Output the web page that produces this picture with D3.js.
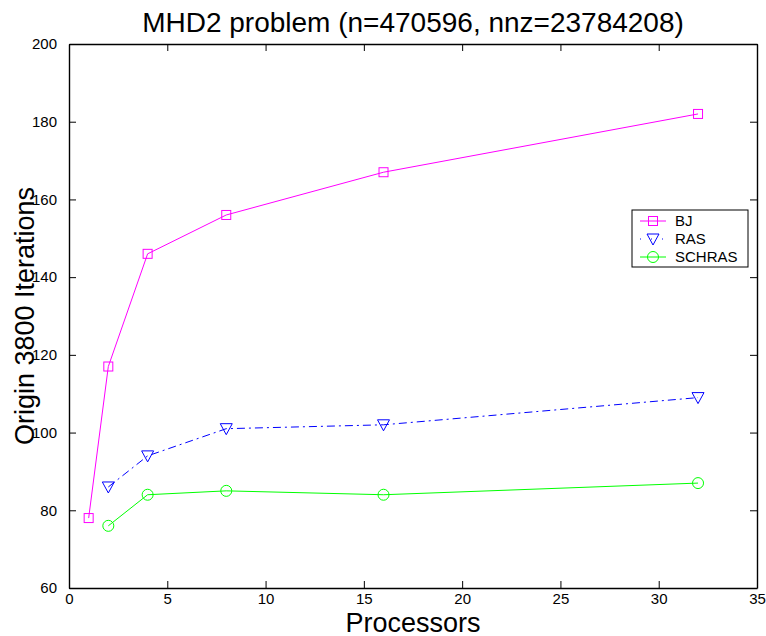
<!DOCTYPE html>
<html>
<head>
<meta charset="utf-8">
<script src="https://cdn.jsdelivr.net/npm/d3@7"></script>
<style>
  body { margin: 0; background: #fff; }
  text { font-family: "Liberation Sans", Arial, sans-serif; }
</style>
</head>
<body>
<div id="content"></div>
<script>
// data
var bjProcs = [1, 2, 4, 8, 16, 32]
var bjIters = [78, 117, 146, 156, 167, 182]
var rasProcs = [2, 4, 8, 16, 32]
var rasIters = [86, 94, 101, 102, 109]
var schrasProcs = [2, 4, 8, 16, 32]
var schrasIters = [76, 84, 85, 84, 87]
var xTicks = [0, 5, 10, 15, 20, 25, 30, 35]
var yTicks = [60, 80, 100, 120, 140, 160, 180, 200]

svgwidth = 766
svgheight = 636
margin = {top: 44, right: 9, bottom: 48, left: 69}
width = svgwidth - margin.left - margin.right
height = svgheight - margin.top - margin.bottom

var x = d3.scaleLinear().domain([0, 35]).range([0, width])
var y = d3.scaleLinear().domain([60, 200]).range([height, 0])

var svg = d3.select("#content").append("svg")
  .attr("width", svgwidth)
  .attr("height", svgheight)

var g = svg.append("g").attr("transform", "translate(" + margin.left + "," + margin.top + ")")

// axes with inward ticks, box style
g.append("g")
  .attr("transform", "translate(0," + height + ")")
  .call(d3.axisBottom(x).tickValues(xTicks).tickSizeInner(-7).tickSizeOuter(0).tickPadding(5))
g.append("g")
  .call(d3.axisTop(x).tickValues(xTicks).tickSizeInner(-7).tickSizeOuter(0).tickFormat(""))
g.append("g")
  .call(d3.axisLeft(y).tickValues(yTicks).tickSizeInner(-7).tickSizeOuter(0).tickPadding(12))
g.append("g")
  .attr("transform", "translate(" + width + ",0)")
  .call(d3.axisRight(y).tickValues(yTicks).tickSizeInner(-7).tickSizeOuter(0).tickFormat(""))

g.selectAll(".domain").attr("stroke", "#000").attr("stroke-width", 1.4)
g.selectAll(".tick line").attr("stroke", "#000")
g.selectAll(".tick text").attr("fill", "#000").style("font-size", "15px")

var series = [
  {name: "BJ", xs: bjProcs, ys: bjIters, color: "#ff00ff", dash: null, marker: "square"},
  {name: "RAS", xs: rasProcs, ys: rasIters, color: "#0000ff", dash: "8,4,2,4", marker: "tri"},
  {name: "SCHRAS", xs: schrasProcs, ys: schrasIters, color: "#00ff00", dash: null, marker: "circle"}
]

function drawMarker(sel, kind, cx, cy, color) {
  if (kind == "square") {
    sel.append("rect").attr("x", cx - 4.5).attr("y", cy - 4.5).attr("width", 9).attr("height", 9)
      .attr("fill", "none").attr("stroke", color).attr("stroke-width", 1)
  } else if (kind == "tri") {
    sel.append("path")
      .attr("d", "M" + (cx - 6) + "," + (cy - 5) + "L" + (cx + 6) + "," + (cy - 5) + "L" + cx + "," + (cy + 6) + "Z")
      .attr("fill", "none").attr("stroke", color).attr("stroke-width", 1)
  } else {
    sel.append("circle").attr("cx", cx).attr("cy", cy).attr("r", 5.5)
      .attr("fill", "none").attr("stroke", color).attr("stroke-width", 1)
  }
}

series.forEach(function(s) {
  var pts = s.xs.map(function(v, i) { return [v, s.ys[i]] })
  var line = d3.line().x(function(d) { return x(d[0]) }).y(function(d) { return y(d[1]) })
  g.append("path").datum(pts)
    .attr("d", line)
    .attr("fill", "none")
    .attr("stroke", s.color)
    .attr("stroke-width", 1)
    .attr("stroke-dasharray", s.dash)
  pts.forEach(function(p) { drawMarker(g, s.marker, x(p[0]), y(p[1]), s.color) })
})

// legend
var lg = svg.append("g").attr("transform", "translate(632,210)")
lg.append("rect").attr("width", 116).attr("height", 57)
  .attr("fill", "#fff").attr("stroke", "#000").attr("stroke-width", 1)
series.forEach(function(s, i) {
  var ly = 11 + i * 18
  lg.append("line").attr("x1", 8).attr("x2", 34).attr("y1", ly).attr("y2", ly)
    .attr("stroke", s.color).attr("stroke-dasharray", s.dash ? "1,10" : null)
  drawMarker(lg, s.marker, 21, ly, s.color)
  lg.append("text").attr("x", 43).attr("y", ly).attr("dy", "0.35em")
    .style("font-size", "15px").attr("fill", "#000").text(s.name)
})

// titles
svg.append("text").attr("x", margin.left + width / 2).attr("y", 32)
  .attr("text-anchor", "middle").style("font-size", "28px").attr("fill", "#000")
  .text("MHD2 problem (n=470596, nnz=23784208)")
svg.append("text").attr("x", margin.left + width / 2).attr("y", 632)
  .attr("text-anchor", "middle").style("font-size", "27px").attr("fill", "#000")
  .text("Processors")
svg.append("text").attr("transform", "translate(34," + (margin.top + height / 2) + ") rotate(-90)")
  .attr("text-anchor", "middle").style("font-size", "27px").attr("fill", "#000")
  .text("Origin 3800 Iterations")
</script>
</body>
</html>
